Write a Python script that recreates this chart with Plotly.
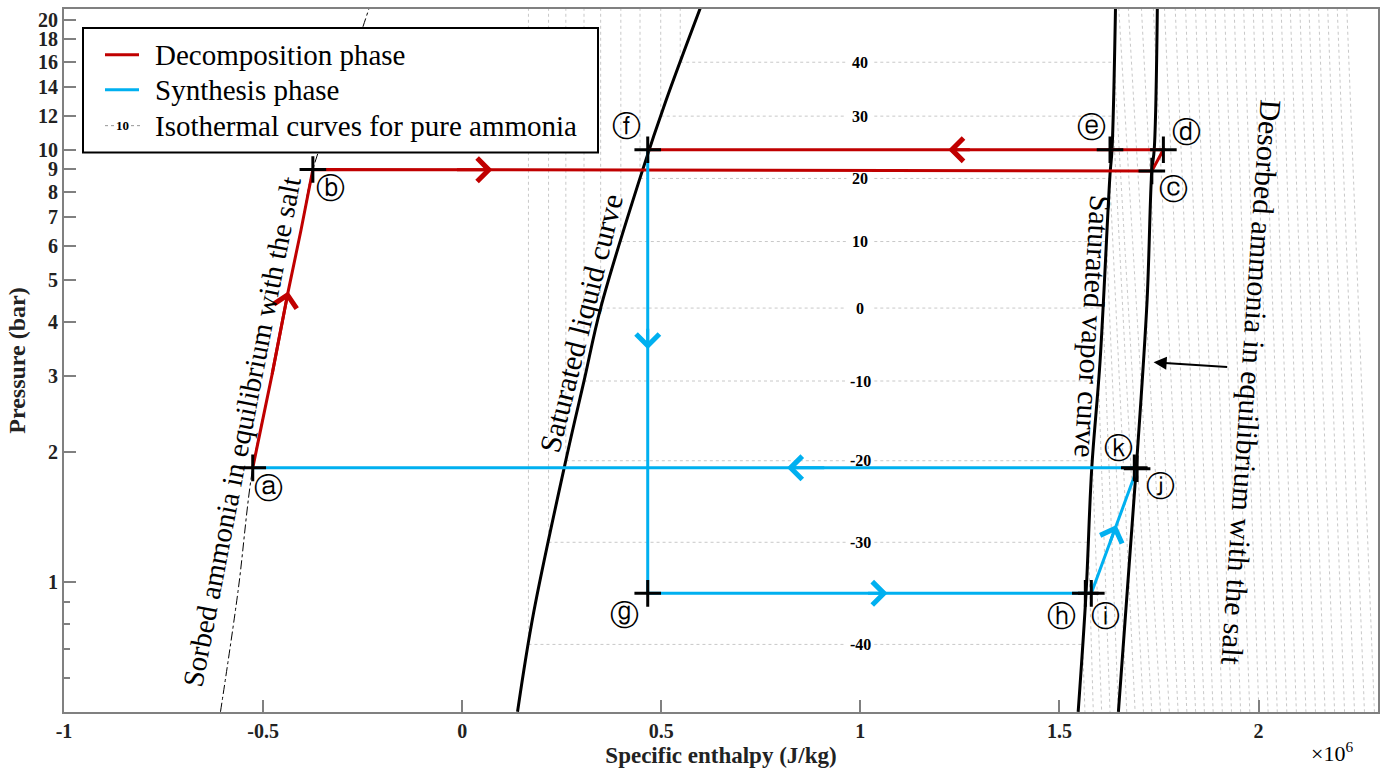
import numpy as np
import plotly.graph_objects as go

# ---------------- data (h in 10^6 J/kg, P in bar) ----------------
state_labels = ["a", "b", "c", "d", "e", "f", "g", "h", "i", "j", "k"]
state_h = [-0.526, -0.375, 1.732, 1.761, 1.627, 0.466, 0.466, 1.565, 1.580, 1.695, 1.688]
state_P = [1.835, 9.0, 8.93, 10.0, 10.0, 10.0, 0.94, 0.94, 0.94, 1.826, 1.835]

# decomposition phase: a -> b (along sorbed curve) -> c -> d -> e -> f
decomp_h = [-0.526, -0.478, -0.437, -0.405, -0.375, 1.732, 1.761, 1.627, 0.466]
decomp_P = [1.835, 3.0, 4.7, 6.5, 9.0, 8.93, 10.0, 10.0, 10.0]
# synthesis phase: f -> g -> h -> i -> j -> k -> a
synth_h = [0.466, 0.466, 1.565, 1.580, 1.695, 1.688, -0.526]
synth_P = [10.0, 0.94, 0.94, 0.94, 1.826, 1.835, 1.835]

# sorbed ammonia in equilibrium with the salt (dash-dot)
sorbed_h = [-0.607, -0.563, -0.526, -0.478, -0.437, -0.405, -0.375, -0.30, -0.232]
sorbed_P = [0.50, 0.95, 1.835, 3.0, 4.7, 6.5, 9.0, 14.0, 21.5]
# saturated liquid curve
liq_h = [0.139, 0.179, 0.264, 0.306, 0.348, 0.452, 0.511, 0.604]
liq_P = [0.50, 0.844, 1.978, 2.916, 4.31, 8.91, 12.93, 22.0]
# saturated vapor curve
vap_h = [1.547, 1.567, 1.581, 1.602, 1.627, 1.632, 1.641]
vap_P = [0.50, 0.949, 1.826, 3.24, 8.77, 10.0, 22.0]
# desorbed ammonia in equilibrium with the salt
des_h = [1.648, 1.693, 1.720, 1.732, 1.738, 1.746]
des_P = [0.50, 1.838, 4.46, 8.94, 10.0, 22.0]

# isotherms of pure ammonia (labelled ones, saturation pressure in bar)
iso_T = [-40, -30, -20, -10, 0, 10, 20, 30, 40]
iso_Psat = [0.716, 1.234, 1.906, 2.915, 4.30, 6.13, 8.58, 11.96, 15.94]
# enthalpy of the vapour isotherms at the bottom of the chart (0.5 bar), T = -40 ... 280 °C
iso_vap_bottom_h = [1.564, 1.585, 1.606, 1.627, 1.648, 1.669, 1.690, 1.711, 1.732,
                    1.754, 1.776, 1.798, 1.820, 1.842, 1.864, 1.886, 1.909, 1.932,
                    1.955, 1.978, 2.001, 2.024, 2.047, 2.071, 2.095, 2.119, 2.143,
                    2.167, 2.191, 2.216, 2.241, 2.266, 2.291]
# enthalpy of superheated isotherms (T = 50 ... 280 °C) at the top of the chart
iso_sup_top_h = [1.648, 1.672, 1.705, 1.735, 1.763, 1.790, 1.816, 1.841, 1.866,
                 1.890, 1.914, 1.938, 1.962, 1.986, 2.009, 2.032, 2.056, 2.079,
                 2.103, 2.126, 2.150, 2.173, 2.197, 2.221]
iso_top_P = 22.0
iso_bottom_P = 0.5
iso_label_h = 1.0

# axis ticks
x_tickvals = [-1, -0.5, 0, 0.5, 1, 1.5, 2]
x_ticktext = ["-1", "-0.5", "0", "0.5", "1", "1.5", "2"]
y_tickvals = [1, 2, 3, 4, 5, 6, 7, 8, 9, 10, 12, 14, 16, 18, 20]
y_minor = [0.6, 0.7, 0.8, 0.9]

legend_names = ["Decomposition phase", "Synthesis phase", "Isothermal curves for pure ammonia"]

# ---------------- styling ----------------
RED = "#C00000"
BLUE = "#00B0F0"
GRAY = "#808080"
ISO = "rgb(200,200,200)"
SERIF = "Liberation Serif"
S = 1e6

# plot-area geometry (pixels) used to place the hand-drawn legend in paper coords
L, T, W, H = 64, 7, 1314, 705


def px(xp):
    return (xp - L) / W


def py(yp):
    return 1 - (yp - T) / H


def lg(p):
    return float(np.log10(p))


fig = go.Figure()

# --- isotherms (one trace, broken with None) ---
ix, iy = [], []
lq_logP = np.log10(liq_P)
vp_logP = np.log10(vap_P)
for k, (Tc, ps) in enumerate(zip(iso_T, iso_Psat)):
    hl = float(np.interp(lg(ps), lq_logP, liq_h))
    hv = float(np.interp(lg(ps), vp_logP, vap_h))
    ix += [hl * S, hl * S, None]; iy += [iso_top_P, ps, None]
    ix += [hl * S, (iso_label_h - 0.035) * S, None, (iso_label_h + 0.035) * S, hv * S, None]
    iy += [ps, ps, None, ps, ps, None]
    ix += [hv * S, iso_vap_bottom_h[k] * S, None]; iy += [ps, iso_bottom_P, None]
n_lab = len(iso_T)
for k, ht in enumerate(iso_sup_top_h):
    hb = iso_vap_bottom_h[n_lab + k]
    ix += [ht * S, hb * S, None]; iy += [iso_top_P, iso_bottom_P, None]

fig.add_trace(go.Scatter(x=ix, y=iy, mode="lines", name=legend_names[2],
                         line=dict(color=ISO, width=1, dash="dot"), hoverinfo="skip"))

# --- property curves ---
fig.add_trace(go.Scatter(x=[h * S for h in sorbed_h], y=sorbed_P, mode="lines",
                         line=dict(color="black", width=1, dash="dashdot", shape="spline")))
for hh, pp in [(liq_h, liq_P), (vap_h, vap_P), (des_h, des_P)]:
    fig.add_trace(go.Scatter(x=[h * S for h in hh], y=pp, mode="lines",
                             line=dict(color="black", width=3, shape="spline")))

# --- cycle ---
fig.add_trace(go.Scatter(x=[h * S for h in decomp_h], y=decomp_P, mode="lines",
                         name=legend_names[0], line=dict(color=RED, width=3)))
fig.add_trace(go.Scatter(x=[h * S for h in synth_h], y=synth_P, mode="lines",
                         name=legend_names[1], line=dict(color=BLUE, width=3)))
fig.add_trace(go.Scatter(x=[h * S for h in state_h], y=state_P, mode="markers",
                         marker=dict(symbol="cross-thin", size=19,
                                     line=dict(color="black", width=3))))


# --- direction arrows (tip/tail computed along path segments) ---
def on_seg(h0, p0, h1, p1, t):
    return h0 + (h1 - h0) * t, 10 ** (lg(p0) + (lg(p1) - lg(p0)) * t)


arrow_specs = [  # (path, segment start index, t_tip, t_tail, colour)
    ("d", 1, 1.0, 0.0, RED),
    ("d", 4, 0.214, 0.17, RED),
    ("d", 7, 0.35, 0.30, RED),
    ("s", 0, 0.45, 0.40, BLUE),
    ("s", 1, 0.548, 0.50, BLUE),
    ("s", 3, 0.548, 0.40, BLUE),
    ("s", 5, 0.394, 0.35, BLUE),
]
for path, i0, tt, tl, col in arrow_specs:
    hh, pp = (decomp_h, decomp_P) if path == "d" else (synth_h, synth_P)
    xt, yt = on_seg(hh[i0], pp[i0], hh[i0 + 1], pp[i0 + 1], tt)
    xl, yl = on_seg(hh[i0], pp[i0], hh[i0 + 1], pp[i0 + 1], tl)
    fig.add_annotation(x=xt * S, y=lg(yt), ax=xl * S, ay=lg(yl), axref="x", ayref="y",
                       xref="x", yref="y", text="", showarrow=True, arrowhead=4,
                       arrowsize=1.5, arrowwidth=3, arrowcolor=col)

# pointer to the desorbed curve
fig.add_annotation(x=1.7365 * S, y=lg(3.22), ax=1.925 * S, ay=lg(3.14), axref="x", ayref="y",
                   text="", showarrow=True, arrowhead=2, arrowsize=1.3, arrowwidth=2,
                   arrowcolor="black")

# --- circled state labels ---
circled = {"a": "ⓐ", "b": "ⓑ", "c": "ⓒ", "d": "ⓓ", "e": "ⓔ", "f": "ⓕ", "g": "ⓖ",
           "h": "ⓗ", "i": "ⓘ", "j": "ⓙ", "k": "ⓚ"}
label_shift = {"a": (16, 20), "b": (18, 19), "c": (22, 18), "d": (23, -18), "e": (-19, -23),
               "f": (-21, -24), "g": (-23, 22), "h": (-24, 23), "i": (14, 23),
               "j": (23, 17), "k": (-16, -20)}
for nm, h, p in zip(state_labels, state_h, state_P):
    dx, dy = label_shift[nm]
    fig.add_annotation(x=h * S, y=lg(p), text=circled[nm], showarrow=False,
                       xshift=dx, yshift=-dy,
                       font=dict(family="DejaVu Sans", size=29, color="black"))

# --- isotherm labels ---
for Tc, ps in zip(iso_T, iso_Psat):
    fig.add_annotation(x=iso_label_h * S, y=lg(ps), text=str(Tc), showarrow=False,
                       font=dict(family=SERIF, size=16, color="black", weight="bold"))

# --- curve captions ---
captions = [
    ("Sorbed ammonia in equilibrium with the salt", -0.553, 2.23, -79, 29),
    ("Saturated liquid curve", 0.297, 3.97, -76, 30),
    ("Saturated vapor curve", 1.585, 3.905, 93.5, 30),
    ("Desorbed ammonia in equilibrium with the salt", 1.981, 2.885, 94, 30),
]
for txt, h, p, ang, fs in captions:
    fig.add_annotation(x=h * S, y=lg(p), text=txt, showarrow=False, textangle=ang,
                       font=dict(family=SERIF, size=fs, color="black"))

fig.add_annotation(xref="paper", yref="paper", x=px(1355), y=py(768), text="×10<sup>6</sup>",
                   showarrow=False, font=dict(family=SERIF, size=22, color="black"))

# --- legend (drawn box with samples and text) ---
fig.add_shape(type="rect", xref="paper", yref="paper", x0=px(83), x1=px(598),
              y0=py(151), y1=py(26), line=dict(color="black", width=2), fillcolor="white",
              layer="above")
legend_rows = [53, 88, 124]
fig.add_shape(type="line", xref="paper", yref="paper", x0=px(105), x1=px(139),
              y0=py(legend_rows[0]), y1=py(legend_rows[0]), line=dict(color=RED, width=3),
              layer="above")
fig.add_shape(type="line", xref="paper", yref="paper", x0=px(105), x1=px(139),
              y0=py(legend_rows[1]), y1=py(legend_rows[1]), line=dict(color=BLUE, width=3),
              layer="above")
for xa, xb in [(105, 114), (131, 142)]:
    fig.add_shape(type="line", xref="paper", yref="paper", x0=px(xa), x1=px(xb),
                  y0=py(legend_rows[2]), y1=py(legend_rows[2]),
                  line=dict(color="rgb(150,150,150)", width=1, dash="dot"), layer="above")
fig.add_annotation(xref="paper", yref="paper", x=px(122.5), y=py(legend_rows[2]), text="10",
                   xanchor="center", yanchor="middle", showarrow=False,
                   font=dict(family=SERIF, size=13, color="black", weight="bold"))
for name, row in zip(legend_names, legend_rows):
    fig.add_annotation(xref="paper", yref="paper", x=px(153), y=py(row), xanchor="left",
                       yanchor="middle", text=name, showarrow=False,
                       font=dict(family=SERIF, size=29, color="black"))

axis_common = dict(showline=True, linecolor=GRAY, linewidth=2, mirror=True, ticks="inside",
                   tickcolor=GRAY, tickwidth=1.5, ticklen=12, showgrid=False, zeroline=False,
                   tickfont=dict(family=SERIF, size=20, color="#222222", weight="bold"))

fig.update_layout(
    width=1396, height=778,
    margin=dict(l=L, r=1396 - L - W, t=T, b=778 - T - H),
    paper_bgcolor="white", plot_bgcolor="white",
    showlegend=False,
    xaxis=dict(range=[-1.0 * S, 2.3 * S], tickvals=[v * S for v in x_tickvals], ticktext=x_ticktext,
               title=dict(text="Specific enthalpy (J/kg)", standoff=6,
                          font=dict(family=SERIF, size=23, color="#222222", weight="bold")),
               **axis_common),
    yaxis=dict(type="log", range=[-0.3015, 1.3257], tickvals=y_tickvals,
               ticktext=[str(v) for v in y_tickvals],
               minor=dict(tickvals=y_minor, ticklen=6, ticks="inside", tickcolor=GRAY),
               title=dict(text="Pressure (bar)", standoff=6,
                          font=dict(family=SERIF, size=24, color="#222222", weight="bold")),
               **axis_common),
)

fig.write_html("out.html", config={"displayModeBar": False},
               post_script="document.body.style.margin='0px';")
